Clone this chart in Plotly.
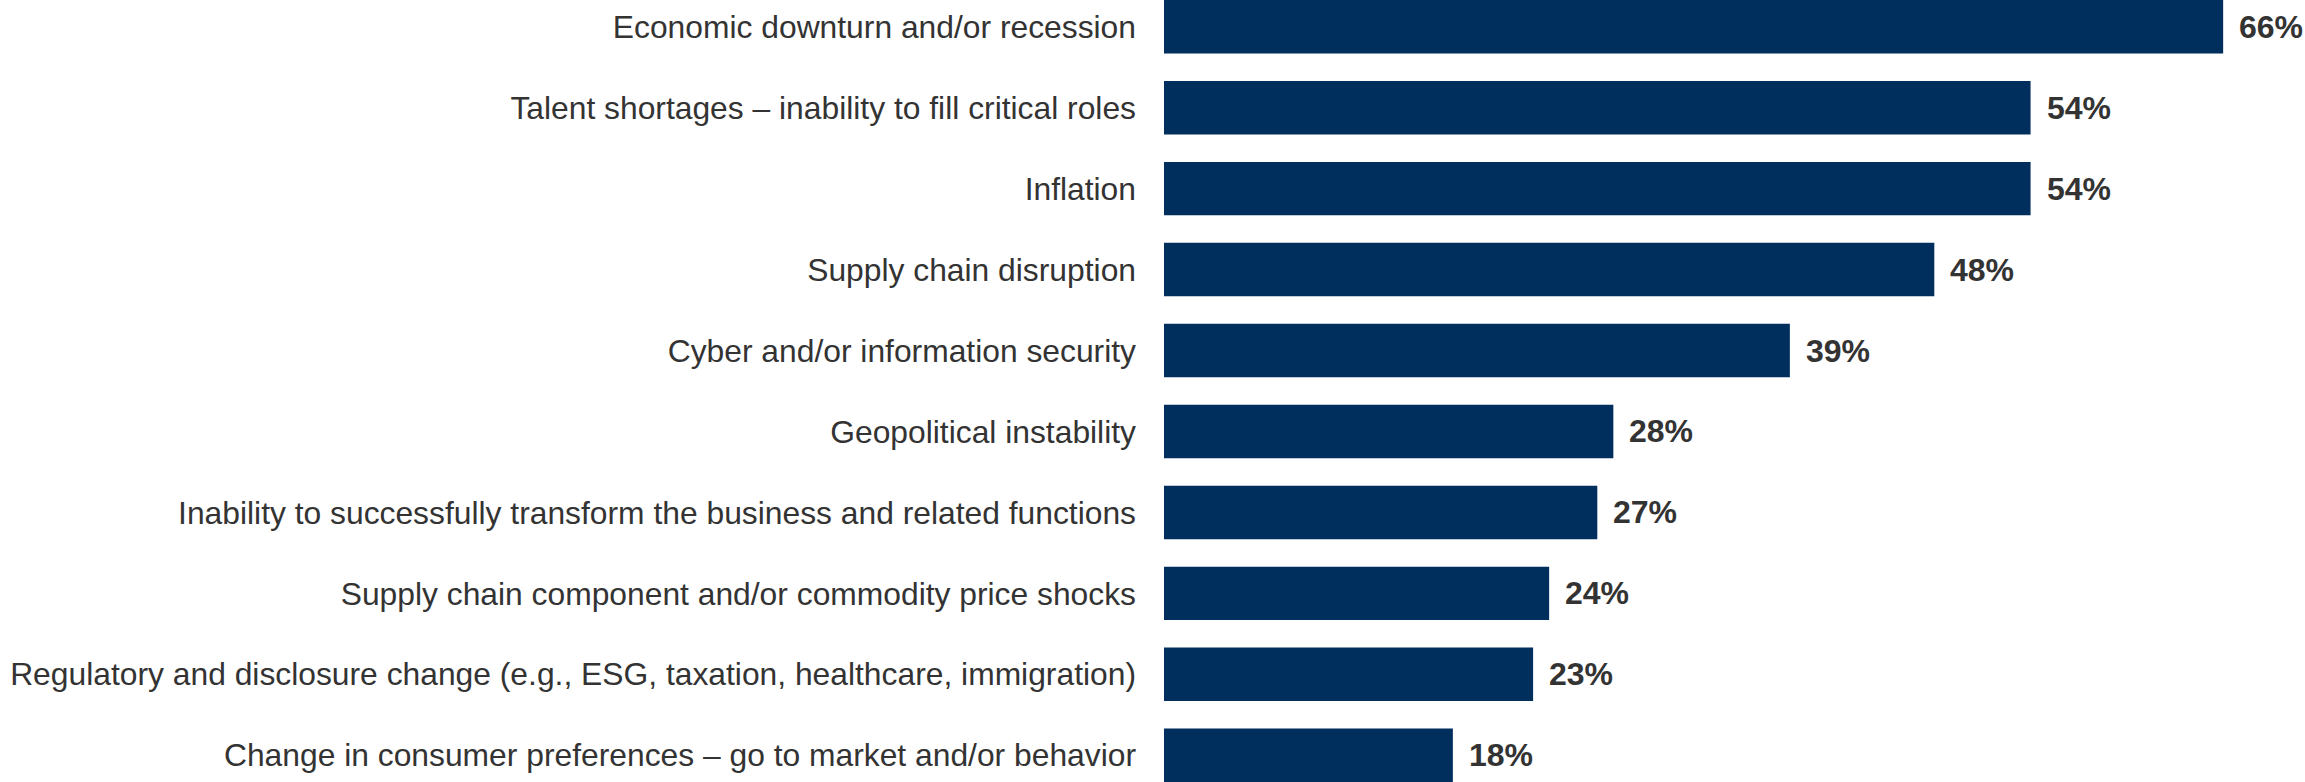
import plotly.graph_objects as go

categories = [
    "Economic downturn and/or recession",
    "Talent shortages \u2013 inability to fill critical roles",
    "Inflation",
    "Supply chain disruption",
    "Cyber and/or information security",
    "Geopolitical instability",
    "Inability to successfully transform the business and related functions",
    "Supply chain component and/or commodity price shocks",
    "Regulatory and disclosure change (e.g., ESG, taxation, healthcare, immigration)",
    "Change in consumer preferences \u2013 go to market and/or behavior",
]
values = [66, 54, 54, 48, 39, 28, 27, 24, 23, 18]
value_labels = [f"{v}%" for v in values]

BAR_COLOR = "#002F5E"
TEXT_COLOR = "#333333"
FONT = "Liberation Sans, Arial, sans-serif"

fig = go.Figure()
fig.add_trace(go.Bar(
    x=values,
    y=categories,
    orientation="h",
    width=0.66,
    marker=dict(color=BAR_COLOR, line=dict(width=0)),
    hoverinfo="skip",
))

for c, v, t in zip(categories, values, value_labels):
    fig.add_annotation(
        x=v, y=c, text=f"<b>{t}</b>", showarrow=False,
        xanchor="left", yanchor="middle", xshift=14,
        font=dict(family=FONT, size=32, color=TEXT_COLOR),
    )

fig.update_layout(
    width=2305, height=782,
    margin=dict(l=1164, r=0, t=0, b=0, pad=0),
    paper_bgcolor="white", plot_bgcolor="white",
    showlegend=False,
    font=dict(family=FONT, size=32, color=TEXT_COLOR),
    xaxis=dict(range=[0, 71.1], visible=False, showgrid=False, zeroline=False),
    yaxis=dict(
        type="category",
        range=[9.33, -0.33],
        showgrid=False, zeroline=False, showline=False,
        ticks="", ticklabelstandoff=27,
        tickfont=dict(family=FONT, size=31.8, color=TEXT_COLOR),
    ),
)

fig.write_html("out.html")
